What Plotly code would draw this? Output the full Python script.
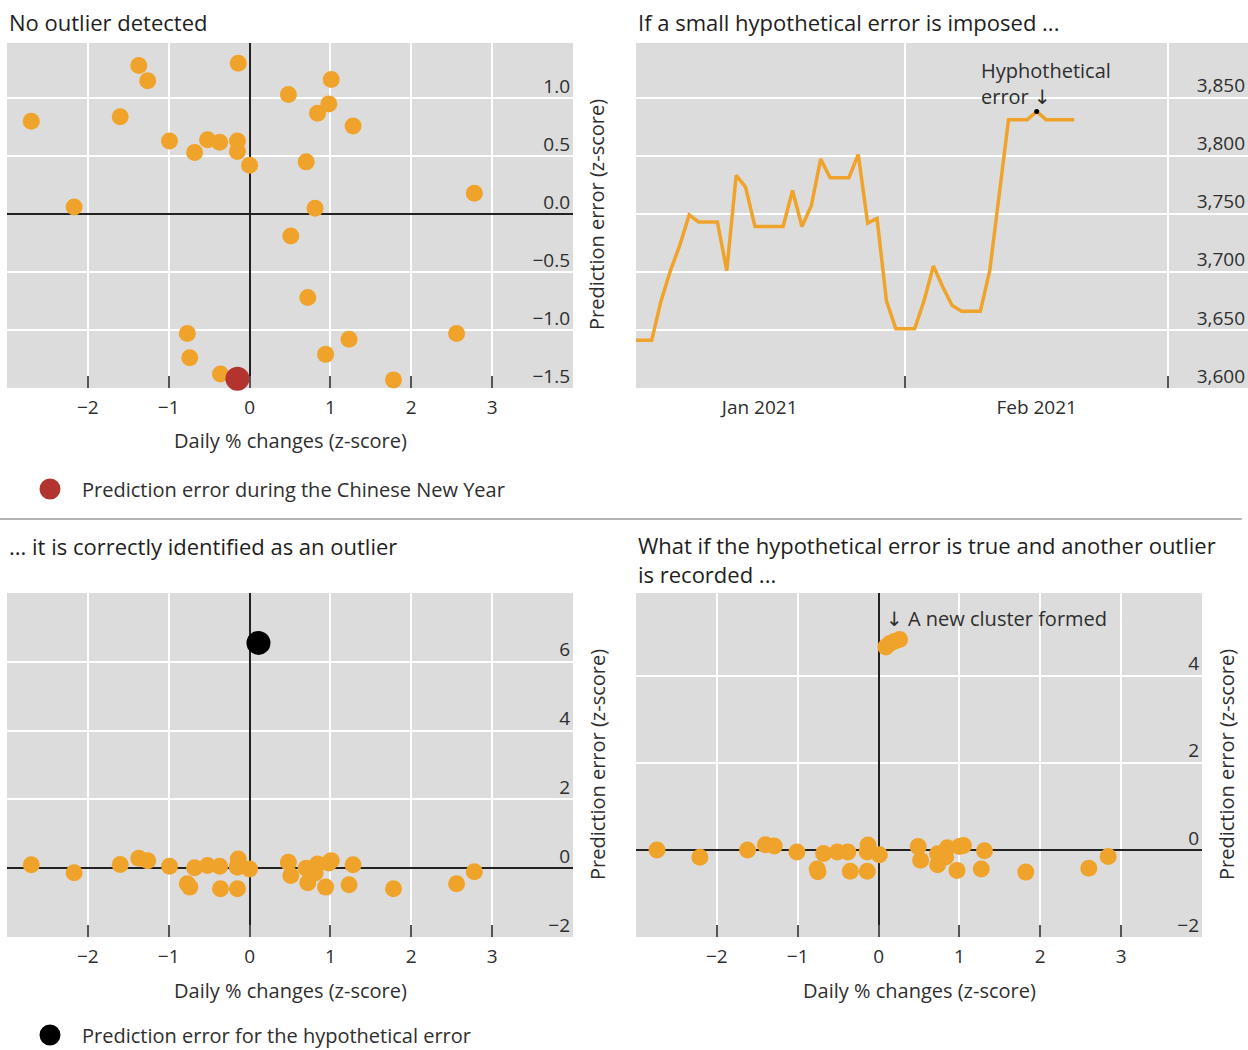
import plotly.graph_objects as go

W, H = 1248, 1050
ORANGE = "#f0a32a"
RED = "#b3342e"
BG = "#dcdcdc"
TXT = "#2e2e2e"
FONT = "Open Sans, Noto Sans, DejaVu Sans, sans-serif"

# ---------------- data ----------------
# daily % changes (z-score), same days in the two upper/lower-left scatters
x_dev = [-2.70, -2.17, -1.60, -1.37, -1.26, -0.99, -0.77, -0.74, -0.68, -0.52,
         -0.37, -0.36, -0.15, -0.15, -0.14, -0.15, 0.00, 0.48, 0.51, 0.70,
         0.72, 0.81, 0.84, 0.94, 0.98, 1.01, 1.23, 1.28, 1.78, 2.56, 2.78]
# prediction error (z-score), panel "No outlier detected"
y_no_outlier = [0.80, 0.06, 0.84, 1.28, 1.15, 0.63, -1.03, -1.24, 0.53, 0.64,
                0.62, -1.38, 0.63, 0.54, 1.30, -1.42, 0.42, 1.03, -0.19, 0.45,
                -0.72, 0.05, 0.87, -1.21, 0.95, 1.16, -1.08, 0.76, -1.43, -1.03, 0.18]
cny_index = 15  # prediction error during the Chinese New Year

# panel "... it is correctly identified as an outlier"
y_with_error = [0.10, -0.13, 0.11, 0.29, 0.22, 0.06, -0.45, -0.55, 0.01, 0.08,
                0.06, -0.60, 0.07, 0.03, 0.27, -0.60, -0.02, 0.17, -0.21, 0.00,
                -0.42, -0.14, 0.12, -0.55, 0.15, 0.22, -0.48, 0.10, -0.60, -0.45, -0.10]
hyp_x = [0.11]
hyp_y = [6.55]

# panel "What if the hypothetical error is true ..."
x_true = [-2.74, -2.21, -1.62, -1.40, -1.29, -1.01, -0.76, -0.75, -0.68, -0.51,
          -0.38, -0.35, -0.14, -0.14, -0.13, -0.14, 0.01, 0.49, 0.52, 0.73,
          0.73, 0.83, 0.85, 0.97, 1.00, 1.05, 1.27, 1.31, 1.82, 2.60, 2.84,
          0.09, 0.14, 0.20, 0.26]
y_true = [0.00, -0.17, 0.00, 0.12, 0.09, -0.05, -0.44, -0.50, -0.08, -0.05,
          -0.05, -0.49, -0.03, -0.05, 0.11, -0.49, -0.11, 0.08, -0.24, -0.09,
          -0.34, -0.16, 0.05, -0.47, 0.08, 0.10, -0.44, -0.02, -0.51, -0.42, -0.15,
          4.66, 4.74, 4.79, 4.83]

# time series panel
dates = ["2021-01-03", "2021-01-04", "2021-01-05", "2021-01-06", "2021-01-07",
         "2021-01-08", "2021-01-09", "2021-01-10", "2021-01-11", "2021-01-12",
         "2021-01-13", "2021-01-14", "2021-01-15", "2021-01-16", "2021-01-17",
         "2021-01-18", "2021-01-19", "2021-01-20", "2021-01-21", "2021-01-22",
         "2021-01-23", "2021-01-24", "2021-01-25", "2021-01-26", "2021-01-27",
         "2021-01-28", "2021-01-29", "2021-01-30", "2021-01-31", "2021-02-01",
         "2021-02-02", "2021-02-03", "2021-02-04", "2021-02-05", "2021-02-06",
         "2021-02-07", "2021-02-08", "2021-02-09", "2021-02-10", "2021-02-11",
         "2021-02-12", "2021-02-13", "2021-02-14", "2021-02-15", "2021-02-16",
         "2021-02-17", "2021-02-18", "2021-02-19"]
values = [3641, 3641, 3641, 3675, 3701, 3723, 3749, 3743, 3743, 3743,
          3701, 3783, 3773, 3739, 3739, 3739, 3739, 3770, 3739, 3757,
          3797, 3781, 3781, 3781, 3801, 3742, 3746, 3675, 3651, 3651,
          3651, 3675, 3705, 3687, 3671, 3666, 3666, 3666, 3701, 3765,
          3831, 3831, 3831, 3838, 3831, 3831, 3831, 3831]
hyp_date = "2021-02-15"

x_ticks = [-3, -2, -1, 0, 1, 2, 3]
x_ticktext = ["", "\u22122", "\u22121", "0", "1", "2", "3"]

titles = ["No outlier detected",
          "If a small hypothetical error is imposed ...",
          "... it is correctly identified as an outlier",
          "What if the hypothetical error is true and another outlier<br>is recorded ..."]


def px(v):
    return v / W


def py(v):
    return 1 - v / H


fig = go.Figure()

# top-left
keep = [i for i in range(len(x_dev)) if i != cny_index]
fig.add_trace(go.Scatter(x=[x_dev[i] for i in keep], y=[y_no_outlier[i] for i in keep],
                         mode="markers", marker=dict(size=17, color=ORANGE),
                         xaxis="x", yaxis="y", showlegend=False, cliponaxis=False))
fig.add_trace(go.Scatter(x=[x_dev[cny_index]], y=[y_no_outlier[cny_index]],
                         mode="markers",
                         marker=dict(size=19, color=RED, line=dict(color=RED, width=5)),
                         xaxis="x", yaxis="y", name="Prediction error during the Chinese New Year",
                         legend="legend", cliponaxis=False))
# top-right
fig.add_trace(go.Scatter(x=dates, y=values, mode="lines", line=dict(color=ORANGE, width=3.5),
                         xaxis="x2", yaxis="y2", showlegend=False))
fig.add_trace(go.Scatter(x=[hyp_date], y=[values[dates.index(hyp_date)]], mode="markers",
                         marker=dict(size=5, color="black"), xaxis="x2", yaxis="y2",
                         showlegend=False))
# bottom-left
fig.add_trace(go.Scatter(x=x_dev, y=y_with_error, mode="markers",
                         marker=dict(size=17, color=ORANGE),
                         xaxis="x3", yaxis="y3", showlegend=False, cliponaxis=False))
fig.add_trace(go.Scatter(x=hyp_x, y=hyp_y, mode="markers",
                         marker=dict(size=19, color="black", line=dict(color="black", width=5)),
                         xaxis="x3", yaxis="y3", name="Prediction error for the hypothetical error",
                         legend="legend2"))
# bottom-right
fig.add_trace(go.Scatter(x=x_true, y=y_true, mode="markers",
                         marker=dict(size=17, color=ORANGE),
                         xaxis="x4", yaxis="y4", showlegend=False, cliponaxis=False))

tickfont = dict(family=FONT, size=19, color=TXT)
xbase = dict(range=[-3, 4], tickvals=x_ticks, ticktext=x_ticktext, ticks="inside",
             ticklen=12, tickwidth=1.5, tickcolor="#555", showgrid=True, gridcolor="white",
             gridwidth=2, zeroline=True, zerolinecolor="#222", zerolinewidth=1.5,
             showline=False, tickfont=tickfont, ticklabelstandoff=6)
ybase = dict(side="right", ticklabelposition="inside", ticks="", showgrid=True,
             gridcolor="white", gridwidth=2, zeroline=True, zerolinecolor="#222",
             zerolinewidth=1.5, showline=False, tickfont=tickfont, ticklabelshift=-12,
             ticklabeloverflow="allow")

L_dom = [px(7), px(573)]
R_dom_top = [px(636), 1.0]
R_dom_bot = [px(636), px(1202)]
T_dom = [py(388), py(43)]
B_dom = [py(937), py(593)]

fig.update_layout(
    width=W, height=H, autosize=False,
    margin=dict(l=0, r=0, t=0, b=0, pad=0, autoexpand=False),
    paper_bgcolor="white", plot_bgcolor=BG,
    font=dict(family=FONT, color=TXT, size=19),
    xaxis=dict(xbase, domain=L_dom, anchor="y"),
    yaxis=dict(ybase, domain=T_dom, anchor="x", range=[-1.5, 1.475],
               tickvals=[-1.5, -1.0, -0.5, 0.0, 0.5, 1.0], tickformat=".1f"),
    xaxis2=dict(domain=R_dom_top, anchor="y2", type="date",
                range=["2021-01-03 08:00", "2021-03-09 12:00"],
                dtick="M1", tick0="2021-01-01", ticklabelmode="period", tickformat="%b %Y",
                ticks="inside", ticklen=12, tickwidth=1.5, tickcolor="#555",
                showgrid=True, gridcolor="white", gridwidth=2, showline=False,
                tickfont=tickfont, ticklabelstandoff=6),
    yaxis2=dict(ybase, domain=T_dom, anchor="x2", range=[3600, 3897],
                tickvals=[3600, 3650, 3700, 3750, 3800, 3850], tickformat=",d", zeroline=False),
    xaxis3=dict(xbase, domain=L_dom, anchor="y3"),
    yaxis3=dict(ybase, domain=B_dom, anchor="x3", range=[-2, 8], tickvals=[-2, 0, 2, 4, 6]),
    xaxis4=dict(xbase, domain=R_dom_bot, anchor="y4"),
    yaxis4=dict(ybase, domain=B_dom, anchor="x4", range=[-2, 5.9], tickvals=[-2, 0, 2, 4]),
    legend=dict(x=px(18), y=py(489), xanchor="left", yanchor="middle",
                font=dict(family=FONT, size=20, color=TXT), itemwidth=54,
                bgcolor="rgba(0,0,0,0)"),
    legend2=dict(x=px(18), y=py(1035), xanchor="left", yanchor="middle",
                 font=dict(family=FONT, size=20, color=TXT), itemwidth=54,
                 bgcolor="rgba(0,0,0,0)"),
)

ann = []
title_pos = [(7, 22), (636, 22), (7, 546), (636, 559)]
for t, (xx, yy) in zip(titles, title_pos):
    ann.append(dict(text=t, x=px(xx), y=py(yy), xref="paper", yref="paper",
                    xanchor="left", yanchor="middle", showarrow=False, align="left",
                    font=dict(family=FONT, size=22, color="#1e1e1e")))
for (xx, yy) in [(290, 440), (290, 990), (919, 990)]:
    ann.append(dict(text="Daily % changes (z-score)", x=px(xx), y=py(yy), xref="paper",
                    yref="paper", xanchor="center", yanchor="middle", showarrow=False,
                    font=dict(family=FONT, size=20, color=TXT)))
for (xx, yy) in [(597, 215), (597, 765), (1226, 765)]:
    ann.append(dict(text="Prediction error (z-score)", x=px(xx), y=py(yy), xref="paper",
                    yref="paper", xanchor="center", yanchor="middle", showarrow=False,
                    textangle=-90, font=dict(family=FONT, size=20, color=TXT)))
ann.append(dict(text="Hyphothetical<br>error \u2193", x=px(979), y=py(84), xref="paper",
                yref="paper", xanchor="left", yanchor="middle", align="left", showarrow=False,
                font=dict(family=FONT, size=20, color=TXT)))
ann.append(dict(text="\u2193 A new cluster formed", x=px(884), y=py(618), xref="paper",
                yref="paper", xanchor="left", yanchor="middle", align="left", showarrow=False,
                font=dict(family=FONT, size=20, color=TXT)))
fig.update_layout(annotations=ann)

fig.add_shape(type="line", xref="paper", yref="paper", x0=0, x1=0.995, y0=py(519), y1=py(519),
              line=dict(color="#b5b5b5", width=2))

fig.write_html("out.html", config={"responsive": False})
